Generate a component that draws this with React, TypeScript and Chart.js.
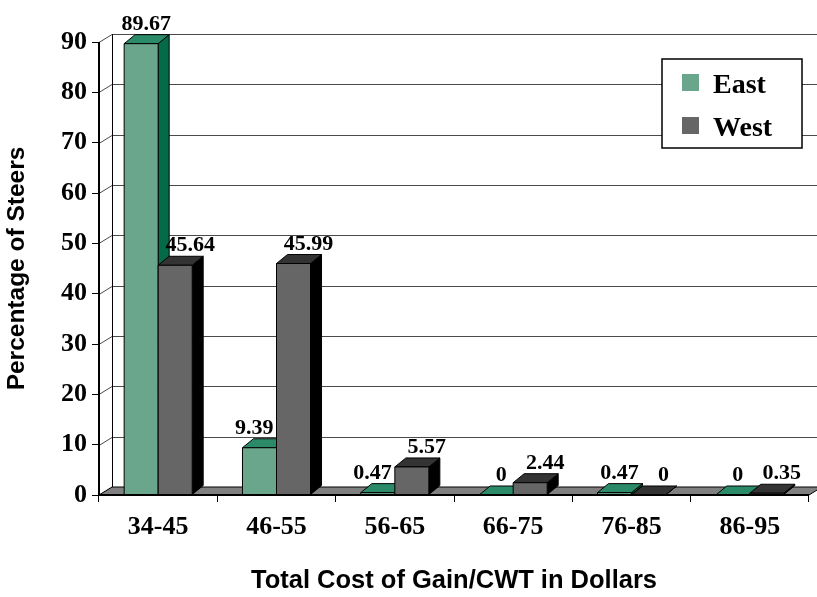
import { useEffect, useRef } from 'react';
import { Chart, registerables } from 'chart.js';

Chart.register(...registerables);

// Cost brackets ($/CWT) and share of steers in each, by region
const categories = ['34-45', '46-55', '56-65', '66-75', '76-85', '86-95'];
const eastValues = [89.67, 9.39, 0.47, 0, 0.47, 0];
const westValues = [45.64, 45.99, 5.57, 2.44, 0, 0.35];
const yMin = 0;
const yMax = 90;
const yStep = 10;

const SERIF = "'Liberation Serif', 'Times New Roman', serif";
const SANS = "'Liberation Sans', Arial, sans-serif";

// Face colours for the pseudo-3D columns
const palettes = [
  { front: '#6aa68b', top: '#2b8b69', side: '#056a47', labelShift: 5 },
  { front: '#666666', top: '#333333', side: '#000000', labelShift: 15 },
];

// depth of the walls/floor and of the columns
const WALL_DX = 13;
const WALL_DY = -8;
const BAR_DX = 11;
const BAR_DY = -9;

function poly(ctx: CanvasRenderingContext2D, pts: number[][], fill: string) {
  ctx.beginPath();
  ctx.moveTo(pts[0][0], pts[0][1]);
  for (let i = 1; i < pts.length; i++) ctx.lineTo(pts[i][0], pts[i][1]);
  ctx.closePath();
  ctx.fillStyle = fill;
  ctx.fill();
  ctx.stroke();
}

const threeD = {
  id: 'threeD',
  beforeDatasetsDraw(chart: any) {
    const { ctx, chartArea: a, scales } = chart;
    const ys = scales.y;
    const y0 = ys.getPixelForValue(0);
    const yTop = ys.getPixelForValue(yMax);
    ctx.save();

    // back wall and left wall gridlines
    ctx.lineWidth = 1;
    ctx.strokeStyle = '#4a4a4a';
    ys.ticks.forEach((t: any) => {
      const py = Math.round(ys.getPixelForValue(t.value)) + 0.5;
      ctx.beginPath();
      ctx.moveTo(a.left, py);
      ctx.lineTo(a.left + WALL_DX, py + WALL_DY);
      ctx.lineTo(chart.width + 30, py + WALL_DY);
      ctx.stroke();
    });

    // corner where the walls meet
    ctx.strokeStyle = '#000';
    ctx.beginPath();
    const bx = Math.round(a.left + WALL_DX) + 0.5;
    ctx.moveTo(bx, yTop + WALL_DY);
    ctx.lineTo(bx, y0 + WALL_DY);
    ctx.stroke();

    // floor
    ctx.lineWidth = 1;
    poly(
      ctx,
      [
        [a.left, y0],
        [a.right, y0],
        [a.right + WALL_DX, y0 + WALL_DY],
        [a.left + WALL_DX, y0 + WALL_DY],
      ],
      '#808080'
    );

    // columns, left to right so nearer faces overlap
    const metas = chart.data.datasets.map((_: any, i: number) => chart.getDatasetMeta(i));
    for (let j = 0; j < categories.length; j++) {
      metas.forEach((meta: any, i: number) => {
        const el = meta.data[j];
        const pal = palettes[i];
        const L = el.x - el.width / 2;
        const R = el.x + el.width / 2;
        const top = el.y;
        const base = el.base;
        ctx.strokeStyle = '#000';
        ctx.lineWidth = 1;
        poly(ctx, [[R, top], [R + BAR_DX, top + BAR_DY], [R + BAR_DX, base + BAR_DY], [R, base]], pal.side);
        poly(ctx, [[L, top], [R, top], [R + BAR_DX, top + BAR_DY], [L + BAR_DX, top + BAR_DY]], pal.top);
        if (base - top > 0.5) {
          ctx.beginPath();
          ctx.rect(L, top, R - L, base - top);
          ctx.fillStyle = pal.front;
          ctx.fill();
          ctx.stroke();
        }
      });
    }

    // value labels, nudged left when the neighbouring column would cover them
    ctx.fillStyle = '#000';
    ctx.font = `bold 22px ${SERIF}`;
    ctx.textAlign = 'center';
    ctx.textBaseline = 'alphabetic';
    metas.forEach((meta: any, i: number) => {
      const values = chart.data.datasets[i].data as number[];
      meta.data.forEach((el: any, j: number) => {
        const text = String(values[j]);
        const w = ctx.measureText(text).width;
        const baseline = el.y + BAR_DY - 5;
        let cx = el.x + palettes[i].labelShift;
        const next = metas[i + 1] ? metas[i + 1].data[j] : null;
        if (next) {
          const nextLeft = next.x - next.width / 2;
          if (next.y + BAR_DY < baseline && cx + w / 2 > nextLeft - 3) {
            cx = nextLeft - 3 - w / 2;
          }
        }
        ctx.fillText(text, cx, baseline);
      });
    });

    // front axis lines
    ctx.strokeStyle = '#000';
    ctx.lineWidth = 2;
    ctx.beginPath();
    ctx.moveTo(a.left, yTop);
    ctx.lineTo(a.left, y0);
    ctx.lineTo(a.right, y0);
    ctx.stroke();

    ctx.restore();
    return false;
  },
  afterDraw(chart: any) {
    const { ctx, chartArea: a } = chart;
    ctx.save();
    const left = a.right - 147;
    const top = a.top + 17;
    ctx.fillStyle = '#fff';
    ctx.fillRect(left, top, 140, 89);
    ctx.strokeStyle = '#000';
    ctx.lineWidth = 1.5;
    ctx.strokeRect(left, top, 140, 89);
    ctx.font = `bold 28px ${SERIF}`;
    ctx.textAlign = 'left';
    ctx.textBaseline = 'alphabetic';
    chart.data.datasets.forEach((ds: any, i: number) => {
      const sy = top + 15 + i * 43;
      ctx.fillStyle = palettes[i].front;
      ctx.fillRect(left + 20, sy, 17, 17);
      ctx.fillStyle = '#000';
      ctx.fillText(ds.label, left + 51, sy + 19);
    });
    ctx.restore();
  },
};

export default function App() {
  const ref = useRef<HTMLCanvasElement | null>(null);

  useEffect(() => {
    if (!ref.current) return;
    const chart = new Chart(ref.current, {
      type: 'bar',
      data: {
        labels: categories,
        datasets: [
          { label: 'East', data: eastValues, backgroundColor: palettes[0].front },
          { label: 'West', data: westValues, backgroundColor: palettes[1].front },
        ],
      },
      options: {
        animation: false,
        responsive: false,
        layout: { padding: { top: 42, right: 8, left: 0, bottom: 0 } },
        datasets: { bar: { categoryPercentage: 0.575, barPercentage: 1 } },
        plugins: { legend: { display: false }, tooltip: { enabled: false } },
        scales: {
          x: {
            type: 'category',
            offset: true,
            afterFit: (s: any) => {
              s.height = 102;
            },
            grid: { display: true, drawOnChartArea: false, offset: true, tickLength: 7, color: '#000', lineWidth: 1 },
            border: { display: false },
            ticks: { color: '#000', padding: 10, font: { family: SERIF, weight: 'bold', size: 26 } },
            title: {
              display: true,
              text: 'Total Cost of Gain/CWT in Dollars',
              color: '#000',
              padding: { top: 0, bottom: 1 },
              font: { family: SANS, weight: 'bold', size: 25.5 },
            },
          },
          y: {
            min: yMin,
            max: yMax,
            afterFit: (s: any) => {
              s.width = 99;
            },
            grid: { display: true, drawOnChartArea: false, tickLength: 7, color: '#000', lineWidth: 1 },
            border: { display: false },
            ticks: { stepSize: yStep, color: '#000', padding: 5, font: { family: SERIF, weight: 'bold', size: 26 } },
            title: {
              display: true,
              text: 'Percentage of Steers',
              color: '#000',
              padding: { top: 3, bottom: 0 },
              font: { family: SANS, weight: 'bold', size: 24.5 },
            },
          },
        },
      },
      plugins: [threeD],
    });
    return () => chart.destroy();
  }, []);

  return (
    <div style={{ position: 'fixed', left: 0, top: 0, width: 817, height: 597, background: '#fff' }}>
      <canvas ref={ref} width={817} height={597} style={{ display: 'block' }} />
    </div>
  );
}
